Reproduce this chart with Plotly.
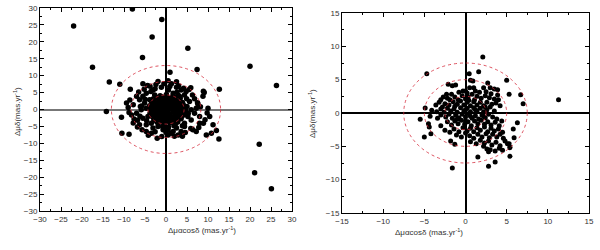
import plotly.graph_objects as go

# ---------------- Left panel data ----------------
left_x = [
    # outliers
    -22.0, -8.0, -1.0, -3.3, -17.5, -5.6, 5.2, 20.0, 26.3, 0.95, 7.4, -13.5, -14.2, 12.6, 22.2, 21.1, 25.1,
    12.7, 9.1, -11.0, -10.6, -10.5, -8.8, -8.5,
    # ring
    -5.5, -4.4, -1.9, 0.5, 2.5, 4.8, 6.3, 8.8, 8.9, 7.2, 10.0, 10.4, 8.9, 7.2, 6.4, 3.6, 2.9, 0.5, -2.1, -3.5,
    -4.7, -6.3, -7.8, -8.2, -7.0, -9.4, -7.8, -6.3, -5.5, -7.0, 3.6, 9.6, 10.8, 12.0, 11.2, 8.0, 8.0, 6.8, 6.0,
    4.4, 1.7, -0.7, -3.1, -4.7, -5.5, -5.9, -5.1, -4.7, -3.1, -1.1, 0.9, 2.5, 4.4, 5.6, 6.0, 5.2, 4.4, 2.5, 0.5,
    -1.9, -3.5, -4.3, -4.7, -3.9, -2.7, 1.7, 3.2, -6.8, 7.6, -2.6, 3.9, 5.9, -6.1,
    -6.5, -5.2, -3.8, -2.4, -0.5, 1.3, 3.0, 4.2, 5.5, 6.8, 7.5, 8.2, -8.6, -9.0, -8.8, -7.6, -6.8, -5.7, -4.2,
    -1.0, 1.2, 4.6, 5.9, 7.8, 9.3, 9.8, -5.0, -5.8, -6.2, 5.0, 5.3, 4.9, -4.6, -2.6, 0.0, 2.0, 3.9, -3.6, 0.6, 2.6,
    # core
    -1.4, 0.1, 1.6, 2.9, -3.1, -1.7, -0.4, 0.9, 2.1, 3.2, -3.4, -2.2, -1.1, 0.3, 1.5, 2.7, 3.9,
    -3.9, -2.5, -1.3, -0.1, 1.1, 2.3, 3.5, 4.3, -3.7, -2.3, -1.1, 0.1, 1.3, 2.5, 3.7, 4.7,
    -3.8, -2.7, -1.5, -0.3, 0.9, 2.1, 3.3, 4.5, -3.3, -2.1, -0.9, 0.3, 1.5, 2.7, 3.7,
    -2.9, -1.7, -0.5, 0.7, 2.0, 3.1, -1.9, -0.4, 0.9, 2.3, -0.8, 0.6, 1.9,
    -2.4, -0.9, 0.5, 2.0, 3.4, -2.8, -1.6, -0.4, 0.9, 2.1, 3.3, -3.2, -1.9, -0.6, 0.6, 1.8, 3.0, 4.1,
    -3.1, -1.8, -0.6, 0.6, 1.8, 3.0, 4.1, -3.2, -1.9, -0.7, 0.5, 1.7, 2.9, 4.0,
    -3.0, -1.6, -0.4, 0.9, 2.1, 3.2, 4.2, -2.5, -1.2, 0.1, 1.4, 2.6, 3.6, -2.2, -1.0, 0.3, 1.5, 2.8,
]
left_y = [
    24.7, 29.7, 26.6, 21.4, 12.5, 15.4, 18.1, 12.8, 7.1, 11.0, 11.8, 8.1, -0.6, -8.7, -10.3, -18.7, -23.4,
    6.0, 5.0, 7.5, -2.3, -7.0, -7.3, 6.0,
    7.6, 7.1, 8.3, 8.5, 8.2, 5.3, 4.3, 3.9, 5.4, 0.4, 0.4, -2.1, -4.1, -6.5, -6.0, -6.5, -7.5, -7.5, -8.5, -7.0,
    -6.5, -4.5, -4.0, -1.6, -1.1, 1.9, 1.4, 2.9, 3.9, 3.9, 5.8, -7.5, -7.0, -6.2, -4.5, -2.1, -4.1, -1.1, -3.1,
    -5.0, -6.5, -6.0, -5.5, -4.5, -2.6, -0.1, 1.9, 4.8, 5.8, 6.6, 6.8, 6.6, 4.3, 2.4, -0.1, -2.1, -4.1, -5.5, -6.0,
    -5.0, -4.1, -2.1, 0.4, 2.9, 4.3, 4.8, 3.9, -3.2, 1.6, 6.1, -7.9, 6.4, 0.9,
    5.2, 6.0, 6.9, 7.4, 7.6, 7.6, 7.0, 6.3, 5.9, 3.2, 2.0, 0.8, 2.8, 0.6, -0.9, -2.8, -5.2, -6.0, -7.6,
    -8.0, -7.0, -6.8, -5.6, -5.3, -3.0, -1.0, 3.0, 1.0, -2.0, 0.9, -1.2, 3.2, -3.3, -6.6, -6.8, -7.9, -4.8, 5.3, 5.8, 5.1,
    4.1, 4.4, 3.9, 4.2, 3.1, 2.8, 3.3, 2.9, 3.2, 2.7, 2.1, 1.8, 2.2, 1.9, 2.3, 1.7, 2.1,
    1.1, 0.8, 1.2, 0.9, 1.3, 0.8, 1.1, 0.7, 0.1, -0.2, 0.2, -0.1, 0.3, -0.2, 0.1, -0.3,
    -1.1, -0.8, -1.2, -0.9, -1.3, -0.8, -1.1, -0.7, -2.1, -1.8, -2.2, -1.9, -2.3, -1.8, -2.1,
    -3.1, -2.8, -3.2, -2.9, -3.3, -2.8, -4.1, -4.3, -3.9, -4.2, -5.0, -5.2, -4.8,
    3.6, 3.7, 3.5, 3.6, 3.4, 2.5, 2.6, 2.4, 2.5, 2.6, 2.4, 1.5, 1.6, 1.4, 1.5, 1.6, 1.4, 1.5,
    0.4, 0.5, 0.3, 0.4, 0.5, 0.3, 0.4, -0.6, -0.5, -0.7, -0.6, -0.5, -0.7, -0.6,
    -1.6, -1.5, -1.7, -1.6, -1.5, -1.7, -1.6, -2.6, -2.5, -2.7, -2.6, -2.5, -2.7, -3.6, -3.7, -3.5, -3.6, -3.7,
]

# ---------------- Right panel data ----------------
right_x = [
    2.1, -4.7, 1.6, 0.45, 5.0, 6.7, 7.0, 11.3, 5.3, -5.5, -4.9, -5.0, -4.4, -4.2, -1.6, 2.8, 3.6, 1.5, 5.4, 5.4,
    5.9, 6.3, 5.8, 5.3,
    -2.1, -1.6, -1.2, -0.3, 0.2, 0.5, 1.0, 0.6, 0.9, 2.2, 2.7, 3.0, 3.5, 3.9, 1.7, -0.8, 0.0, 1.2, 2.5, -2.3,
    -3.0, -2.7, -2.2, -1.7, -1.3, -0.9, -0.4, 0.3, 0.8, 1.4, 1.9, 2.4, 3.1, 3.5, 3.9, 4.0, -1.9, 0.0, 1.1, 2.9,
    -3.6, -3.2, -2.5, -2.0, -1.5, -1.0, -0.6, -0.2, 0.2, 0.6, 1.0, 1.4, 1.8, 2.2, 2.6, 3.2, 3.7, 4.2, -1.3, 0.4,
    -4.1, -3.5, -3.0, -2.6, -2.2, -1.8, -1.4, -1.0, -0.6, -0.2, 0.2, 0.6, 1.0, 1.4, 1.8, 2.2, 2.6, 3.0, 3.5,
    -2.8, 0.0, 1.2, 2.4,
    -4.3, -3.4, -3.0, -2.4, -2.0, -1.6, -1.2, -0.8, -0.4, 0.0, 0.4, 0.8, 1.2, 1.6, 2.0, 2.4, 2.8, 3.3, 3.8,
    -1.0, 0.6, 2.2,
    -4.5, -3.0, -2.2, -1.7, -1.3, -0.9, -0.5, -0.1, 0.3, 0.7, 1.1, 1.5, 1.9, 2.3, 2.7, 3.1, 3.6, 4.1, 4.4, 0.0,
    -2.5, -1.4, -0.8, -0.3, 0.2, 0.6, 1.0, 1.4, 1.8, 2.3, 2.7, 3.1, 3.5, 4.0, 4.5, -1.9,
    -1.1, -0.5, 0.5, 1.0, 1.5, 2.0, 2.5, 2.9, 3.3, 3.8, 4.2, 4.6, 0.0,
    -1.8, -1.3, 0.6, 1.3, 1.8, 2.3, 2.8, 3.2, 3.7, 4.2, 4.8, 5.1,
    2.6, 2.8, 3.0, 3.6, 4.1, 4.5, 5.4, 2.2,
]
right_y = [
    8.4, 5.9, 6.2, 5.9, 4.9, 2.75, 1.4, 2.0, 2.8, -0.95, 0.75, -3.6, -2.1, -3.1, -8.25, -8.0, -7.35, -6.6, -6.5, -5.2,
    -3.7, -1.45, -2.4, -4.6,
    4.3, 4.1, 4.2, 3.3, 3.0, 3.8, 3.8, 4.9, 4.8, 3.8, 4.5, 3.8, 3.6, 3.5, 3.1, 3.1, 3.3, 3.3, 3.2, 2.8,
    2.0, 2.4, 2.2, 2.8, 2.4, 2.0, 2.6, 2.4, 2.8, 2.5, 2.2, 2.6, 2.9, 2.1, 2.7, 2.0, 2.0, 2.1, 2.0, 2.3,
    1.2, 1.6, 1.4, 1.2, 1.7, 1.3, 1.8, 1.2, 1.6, 1.1, 1.7, 1.2, 1.6, 1.1, 1.6, 1.3, 1.5, 1.1, 1.0, 1.9,
    0.4, 0.2, 0.6, 0.1, 0.7, 0.3, 0.6, 0.1, 0.8, 0.3, 0.7, 0.2, 0.8, 0.3, 0.7, 0.2, 0.5, 0.9, 0.3,
    0.9, 0.5, 0.5, 0.9,
    -0.5, -0.8, -0.3, -0.6, -0.2, -0.8, -0.3, -0.7, -0.2, -0.6, -0.1, -0.8, -0.4, -0.9, -0.3, -0.7, -0.2, -0.6, -0.9,
    -0.9, -0.5, -0.5,
    -1.6, -1.9, -1.3, -1.8, -1.2, -1.6, -1.1, -1.7, -1.3, -1.9, -1.2, -1.6, -1.1, -1.7, -1.3, -1.8, -1.4, -1.9, -1.2, -1.2,
    -2.6, -2.4, -2.8, -2.2, -2.7, -2.3, -2.8, -2.2, -2.6, -2.1, -2.8, -2.3, -2.7, -2.4, -2.9, -2.9,
    -3.3, -3.6, -3.4, -3.8, -3.2, -3.6, -3.1, -3.7, -3.2, -3.6, -3.2, -3.8, -3.0,
    -4.2, -4.7, -4.3, -4.6, -4.1, -4.5, -4.2, -4.8, -4.4, -4.9, -4.2, -4.6,
    -5.4, -5.8, -5.5, -5.7, -5.3, -5.6, -5.1, -5.0,
]

left_radii = [4.3, 8.3, 13.0]
right_radii = [2.5, 5.0, 7.5]
left_ticks = [-30, -25, -20, -15, -10, -5, 0, 5, 10, 15, 20, 25, 30]
right_ticks = [-15, -10, -5, 0, 5, 10, 15]

fig = go.Figure()
fig.add_trace(go.Scatter(x=left_x, y=left_y, mode="markers", xaxis="x", yaxis="y",
                         marker=dict(color="black", size=5.5), showlegend=False))
fig.add_trace(go.Scatter(x=right_x, y=right_y, mode="markers", xaxis="x2", yaxis="y2",
                         marker=dict(color="black", size=5), showlegend=False))

shapes = []
for r in left_radii:
    shapes.append(dict(type="circle", xref="x", yref="y", x0=-r, x1=r, y0=-r, y1=r,
                       line=dict(color="#d42a3a", width=0.8, dash="dot"), layer="above"))
for r in right_radii:
    shapes.append(dict(type="circle", xref="x2", yref="y2", x0=-r, x1=r, y0=-r, y1=r,
                       line=dict(color="#d42a3a", width=0.8, dash="dot"), layer="above"))

tickfont = dict(family="Liberation Sans, Arial", size=8, color="#333")
common = dict(showgrid=False, ticks="inside", ticklen=4, tickcolor="black", showline=True,
              linecolor="black", linewidth=1, mirror="ticks", tickfont=tickfont,
              zeroline=True, zerolinewidth=1.5, automargin=False)
minor = dict(ticks="inside", ticklen=2, dtick=2.5, tickcolor="black")

fig.update_layout(
    width=600, height=250, margin=dict(l=0, r=0, t=0, b=0, pad=0), autosize=False,
    paper_bgcolor="white", plot_bgcolor="white", shapes=shapes,
    xaxis=dict(domain=[40/600, 292/600], range=[-30, 30], tickvals=left_ticks, minor=minor,
               zerolinecolor="black", anchor="y", **common),
    yaxis=dict(domain=[1-211/250, 1-8/250], range=[-30, 30], tickvals=left_ticks, minor=minor,
               zerolinecolor="#777", anchor="x", **common),
    xaxis2=dict(domain=[342/600, 589/600], range=[-15, 15], tickvals=right_ticks, minor=minor,
                zerolinecolor="black", anchor="y2", **common),
    yaxis2=dict(domain=[1-213/250, 1-13/250], range=[-15, 15], tickvals=right_ticks, minor=minor,
                zerolinecolor="black", anchor="x2", **common),
)

tf = dict(family="Liberation Sans, Arial", size=8, color="#333")
fig.add_annotation(text="Δμαcosδ (mas.yr<sup>-1</sup>)", xref="paper", yref="paper",
                   x=166/600, y=1-237/250, showarrow=False, font=tf)
fig.add_annotation(text="Δμαcosδ (mas.yr<sup>-1</sup>)", xref="paper", yref="paper",
                   x=465/600, y=1-239/250, showarrow=False, font=tf)
fig.add_annotation(text="Δμδ(mas.yr<sup>-1</sup>)", xref="paper", yref="paper",
                   x=10/600, y=1-112/250, showarrow=False, textangle=-90, font=tf)
fig.add_annotation(text="Δμδ(mas.yr<sup>-1</sup>)", xref="paper", yref="paper",
                   x=312/600, y=1-114/250, showarrow=False, textangle=-90, font=tf)

fig.write_html("out.html", config={"displayModeBar": False},
               post_script="document.body.style.margin='0';")
